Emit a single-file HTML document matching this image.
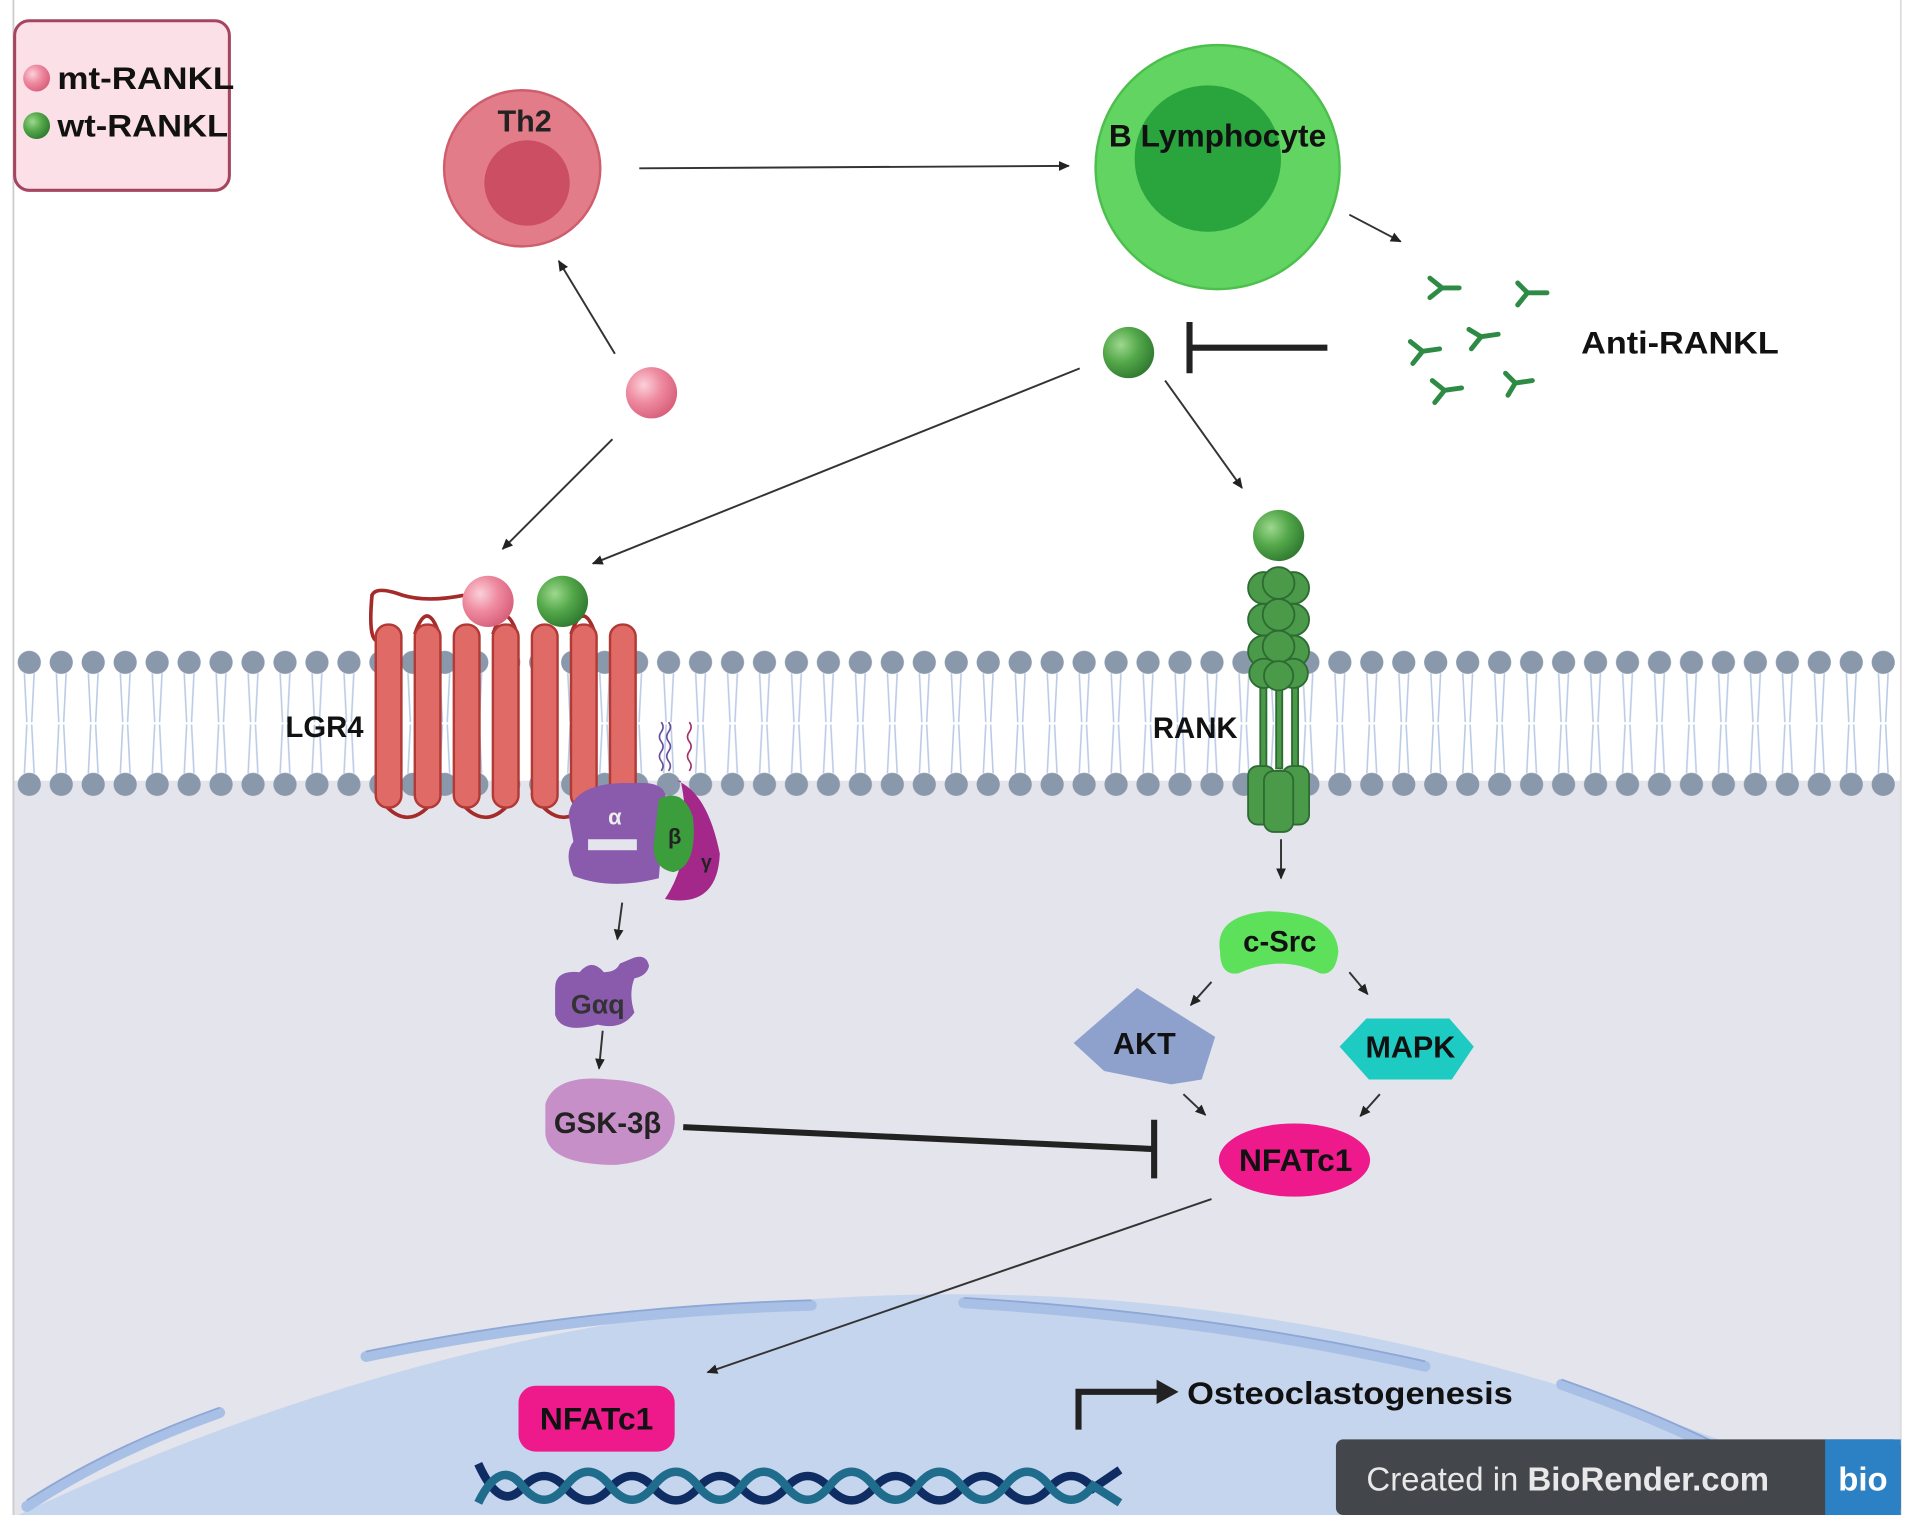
<!DOCTYPE html>
<html><head><meta charset="utf-8"><style>
html,body{margin:0;padding:0;background:#fff;}
svg{display:block;}
text{font-family:"Liberation Sans",sans-serif;font-weight:bold;}
</style></head><body>
<svg width="1913" height="1526" viewBox="0 0 1568 1251" preserveAspectRatio="none" xmlns="http://www.w3.org/2000/svg">
<defs>
<pattern id="heads" x="14" y="533" width="26.2" height="20" patternUnits="userSpaceOnUse">
<circle cx="10" cy="10" r="9.5" fill="#8a98ab"/>
</pattern>
<pattern id="tails" x="14" y="552" width="26.2" height="82" patternUnits="userSpaceOnUse">
<path d="M6 0 L8 40 M14 0 L12 40 M8 42 L6 82 M12 42 L14 82" stroke="#b9cbe6" stroke-width="1.3" fill="none"/>
</pattern>
<marker id="ah" markerWidth="10" markerHeight="10" refX="8" refY="5" orient="auto" markerUnits="userSpaceOnUse">
<path d="M0 1 L9 5 L0 9 z" fill="#222"/>
</marker>
<radialGradient id="pinkb" cx="0.35" cy="0.35" r="0.7"><stop offset="0" stop-color="#fbd0d8"/><stop offset="0.5" stop-color="#ee8aa0"/><stop offset="1" stop-color="#d85f7a"/></radialGradient>
<radialGradient id="greenb" cx="0.35" cy="0.35" r="0.7"><stop offset="0" stop-color="#9ed88e"/><stop offset="0.5" stop-color="#54a84a"/><stop offset="1" stop-color="#2f7a30"/></radialGradient>
</defs>
<rect x="0" y="0" width="1568" height="1251" fill="#fff"/>
<rect x="11" y="640" width="1547" height="602" fill="#e3e4ec"/>
<line x1="11" y1="0" x2="11" y2="1242" stroke="#ccc" stroke-width="1.5"/>
<line x1="1558" y1="0" x2="1558" y2="1242" stroke="#ddd" stroke-width="1.5"/>
<!-- nucleus -->
<path d="M15 1242 Q 780 880 1555 1242 Z" fill="#c6d5ee"/>
<g stroke="#a9c0e6" stroke-width="9" stroke-linecap="round" fill="none">
<path d="M22 1235 Q 90 1190 180 1158"/>
<path d="M300 1112 Q 480 1075 665 1070"/>
<path d="M790 1068 Q 990 1080 1168 1120"/>
<path d="M1280 1135 Q 1380 1170 1450 1210"/>
</g>
<g stroke="#8ea8d6" stroke-width="1.5" fill="none">
<path d="M22 1230 Q 90 1186 180 1154"/>
<path d="M300 1108 Q 480 1071 665 1066"/>
<path d="M790 1064 Q 990 1076 1168 1116"/>
<path d="M1280 1131 Q 1380 1166 1450 1206"/>
</g>
<!-- membrane -->
<rect x="12" y="552" width="1546" height="82" fill="url(#tails)"/>
<rect x="12" y="533" width="1546" height="20" fill="url(#heads)"/>
<rect x="12" y="633" width="1546" height="20" fill="url(#heads)"/>
<!-- legend -->
<rect x="12" y="17" width="176" height="139" rx="12" fill="#fbe1e7" stroke="#a5455f" stroke-width="2.5"/>
<circle cx="30" cy="64" r="11" fill="url(#pinkb)"/>
<circle cx="30" cy="103" r="11" fill="url(#greenb)"/>
<text x="47" y="73" font-size="26" fill="#111" textLength="145" lengthAdjust="spacingAndGlyphs">mt-RANKL</text>
<text x="47" y="112" font-size="26" fill="#111" textLength="140" lengthAdjust="spacingAndGlyphs">wt-RANKL</text>
<!-- Th2 -->
<circle cx="428" cy="138" r="64" fill="#e27c88" stroke="#cf5d6c" stroke-width="2"/>
<circle cx="432" cy="150" r="35" fill="#cc4e62"/>
<text x="430" y="108" font-size="25" fill="#222" text-anchor="middle">Th2</text>
<!-- B lymphocyte -->
<circle cx="998" cy="137" r="100" fill="#62d462" stroke="#4cbf4c" stroke-width="2"/>
<circle cx="990" cy="130" r="60" fill="#2aa43d"/>
<text x="998" y="120" font-size="26" fill="#111" text-anchor="middle">B Lymphocyte</text>
<!-- arrows -->
<g stroke="#333" stroke-width="1.6" fill="none" marker-end="url(#ah)">
<line x1="524" y1="138" x2="876" y2="136"/>
<line x1="1106" y1="176" x2="1148" y2="198"/>
<line x1="504" y1="290" x2="458" y2="214"/>
<line x1="502" y1="360" x2="412" y2="450"/>
<line x1="885" y1="302" x2="486" y2="462"/>
<line x1="955" y1="312" x2="1018" y2="400"/>
<line x1="1050" y1="688" x2="1050" y2="720"/>
<line x1="510" y1="740" x2="506" y2="770"/>
<line x1="494" y1="845" x2="491" y2="876"/>
<line x1="993" y1="805" x2="976" y2="824"/>
<line x1="1106" y1="797" x2="1121" y2="815"/>
<line x1="970" y1="897" x2="988" y2="914"/>
<line x1="1131" y1="897" x2="1115" y2="915"/>
<line x1="993" y1="983" x2="580" y2="1125"/>
</g>
<g stroke="#222" stroke-width="5" fill="none">
<line x1="1088" y1="285" x2="975" y2="285"/>
<line x1="975" y1="264" x2="975" y2="306"/>
<line x1="560" y1="924" x2="946" y2="942"/>
<line x1="946" y1="918" x2="946" y2="966"/>
</g>
<circle cx="534" cy="322" r="21" fill="url(#pinkb)"/>
<circle cx="925" cy="289" r="21" fill="url(#greenb)"/>
<!-- antibodies -->
<g stroke="#2e8b45" stroke-width="4" stroke-linecap="round" fill="none">
<path d="M1172 228 L1182 236 L1196 236 M1182 236 L1172 244"/>
<path d="M1244 232 L1252 240 L1268 240 M1252 240 L1244 250"/>
<path d="M1156 280 L1166 288 L1180 286 M1166 288 L1158 298"/>
<path d="M1204 270 L1214 276 L1228 274 M1214 276 L1206 286"/>
<path d="M1174 312 L1184 320 L1198 318 M1184 320 L1176 330"/>
<path d="M1234 306 L1242 314 L1256 312 M1242 314 L1236 324"/>
</g>
<text x="1296" y="290" font-size="26" fill="#111" textLength="162" lengthAdjust="spacingAndGlyphs">Anti-RANKL</text>
<!-- LGR4 -->
<path d="M305 487 Q300 540 318 520" stroke="#a52a2a" stroke-width="3" fill="none"/>
<path d="M305 488 Q 308 480 330 488 Q 350 494 380 488" stroke="#a52a2a" stroke-width="3" fill="none"/>
<g stroke="#a52a2a" stroke-width="3" fill="none">
<path d="M340 520 Q350 490 360 520"/>
<path d="M404 520 Q414 490 424 520"/>
<path d="M468 520 Q478 490 488 520"/>
<path d="M308 650 Q334 690 360 650"/>
<path d="M372 650 Q398 690 424 650"/>
<path d="M436 650 Q462 690 488 650"/>
</g>
<g fill="#e06b66" stroke="#b23a36" stroke-width="2">
<rect x="308" y="512" width="21" height="150" rx="10"/>
<rect x="340" y="512" width="21" height="150" rx="10"/>
<rect x="372" y="512" width="21" height="150" rx="10"/>
<rect x="404" y="512" width="21" height="150" rx="10"/>
<rect x="436" y="512" width="21" height="150" rx="10"/>
<rect x="468" y="512" width="21" height="150" rx="10"/>
<rect x="500" y="512" width="21" height="150" rx="10"/>
</g>
<circle cx="400" cy="493" r="21" fill="url(#pinkb)"/>
<circle cx="461" cy="493" r="21" fill="url(#greenb)"/>
<text x="234" y="604" font-size="24" fill="#111">LGR4</text>
<!-- G protein -->
<g stroke="#6a4c9c" stroke-width="1.3" fill="none">
<path d="M542 592 q3 4 0 8 q-3 4 0 8 q3 4 0 8 q-3 4 0 8 q3 4 0 8"/>
<path d="M548 592 q3 4 0 8 q-3 4 0 8 q3 4 0 8 q-3 4 0 8 q3 4 0 8"/>
<path d="M565 592 q3 4 0 8 q-3 4 0 8 q3 4 0 8 q-3 4 0 8 q3 4 0 8" stroke="#a0306a"/>
</g>
<path d="M555 640 Q580 650 590 700 Q588 745 545 737 Q570 700 558 640 Z" fill="#a3288a"/>
<path d="M466 668 Q470 640 520 642 Q550 640 545 660 L540 720 Q500 730 470 718 Q462 700 470 690 Z" fill="#8a5aad"/>
<rect x="482" y="688" width="40" height="9" fill="#e3e4ec"/>
<path d="M540 655 Q560 645 568 670 Q572 710 552 715 Q534 712 536 690 Z" fill="#3c9d3c"/>
<text x="504" y="676" font-size="18" fill="#eee" text-anchor="middle">α</text>
<text x="553" y="692" font-size="18" fill="#222" text-anchor="middle">β</text>
<text x="579" y="712" font-size="16" fill="#222" text-anchor="middle">γ</text>
<!-- Gaq -->
<path d="M455 810 Q455 795 475 797 Q485 785 495 797 Q505 797 508 790 L520 785 Q530 782 532 792 Q530 800 520 802 Q515 815 520 830 Q510 845 490 840 Q460 848 455 832 Z" fill="#8a5aad"/>
<text x="490" y="831" font-size="22" fill="#333" text-anchor="middle">Gαq</text>
<!-- GSK -->
<path d="M447 905 Q455 880 500 885 Q550 888 553 915 Q555 950 505 955 Q450 955 447 930 Z" fill="#c68fc8"/>
<text x="498" y="929" font-size="24" fill="#222" text-anchor="middle">GSK-3β</text>
<!-- RANK -->
<g fill="#4a9a4a" stroke="#2d6b32" stroke-width="1.5">
<rect x="1033" y="540" width="5" height="90"/>
<rect x="1046" y="540" width="5" height="90"/>
<rect x="1059" y="540" width="5" height="90"/>
<circle cx="1036" cy="482" r="13"/><circle cx="1060" cy="482" r="13"/><circle cx="1048" cy="478" r="13"/>
<circle cx="1036" cy="508" r="13"/><circle cx="1060" cy="508" r="13"/><circle cx="1048" cy="504" r="13"/>
<circle cx="1036" cy="534" r="13"/><circle cx="1060" cy="534" r="13"/><circle cx="1048" cy="530" r="13"/>
<circle cx="1036" cy="552" r="12"/><circle cx="1060" cy="552" r="12"/><circle cx="1048" cy="554" r="12"/>
<rect x="1023" y="628" width="22" height="48" rx="8"/>
<rect x="1051" y="628" width="22" height="48" rx="8"/>
<rect x="1036" y="632" width="24" height="50" rx="8"/>
</g>
<circle cx="1048" cy="439" r="21" fill="url(#greenb)"/>
<text x="945" y="605" font-size="24" fill="#111">RANK</text>
<!-- c-Src -->
<path d="M1000 780 Q 995 750 1040 747 Q1095 748 1097 780 Q1095 800 1082 798 Q1050 782 1015 798 Q1000 800 1000 780 Z" fill="#5ee15a"/>
<text x="1049" y="780" font-size="24" fill="#111" text-anchor="middle">c-Src</text>
<polygon points="932,810 996,850 985,885 960,889 905,878 880,855" fill="#8ea1cc"/>
<text x="938" y="864" font-size="25" fill="#111" text-anchor="middle">AKT</text>
<polygon points="1120,835 1188,835 1208,858 1190,885 1122,885 1098,858" fill="#1ecbc2"/>
<text x="1156" y="867" font-size="25" fill="#111" text-anchor="middle">MAPK</text>
<ellipse cx="1061" cy="951" rx="62" ry="30" fill="#ee1a8c"/>
<text x="1062" y="960" font-size="26" fill="#111" text-anchor="middle">NFATc1</text>
<rect x="425" y="1136" width="128" height="54" rx="14" fill="#ee1a8c"/>
<text x="489" y="1172" font-size="26" fill="#111" text-anchor="middle">NFATc1</text>
<!-- DNA -->
<g fill="none" stroke-width="7">
<path d="M392 1200 Q410 1240 428 1220 T464 1220 T500 1220 T536 1220 T572 1220 T608 1220 T644 1220 T680 1220 T716 1220 T752 1220 T788 1220 T824 1220 T860 1220 T896 1220 L918 1205" stroke="#0f2d63"/>
<path d="M392 1232 Q410 1195 428 1218 T464 1218 T500 1218 T536 1218 T572 1218 T608 1218 T644 1218 T680 1218 T716 1218 T752 1218 T788 1218 T824 1218 T860 1218 T896 1218 L918 1232" stroke="#1f6c8c"/>
</g>
<path d="M884 1172 L884 1141 L950 1141" stroke="#222" stroke-width="5" fill="none"/>
<polygon points="948,1131 966,1141 948,1151" fill="#222"/>
<text x="973" y="1151" font-size="26" fill="#111" textLength="267" lengthAdjust="spacingAndGlyphs">Osteoclastogenesis</text>
<!-- badge -->
<rect x="1095" y="1180" width="463" height="62" rx="6" fill="#43464b"/>
<rect x="1496" y="1180" width="62" height="62" fill="#2c80c4"/>
<text x="1120" y="1222" font-size="27" fill="#e8e8e8" style="font-weight:normal">Created in <tspan font-weight="bold">BioRender.com</tspan></text>
<text x="1527" y="1222" font-size="27" fill="#fff" text-anchor="middle">bio</text>
</svg>
</body></html>
